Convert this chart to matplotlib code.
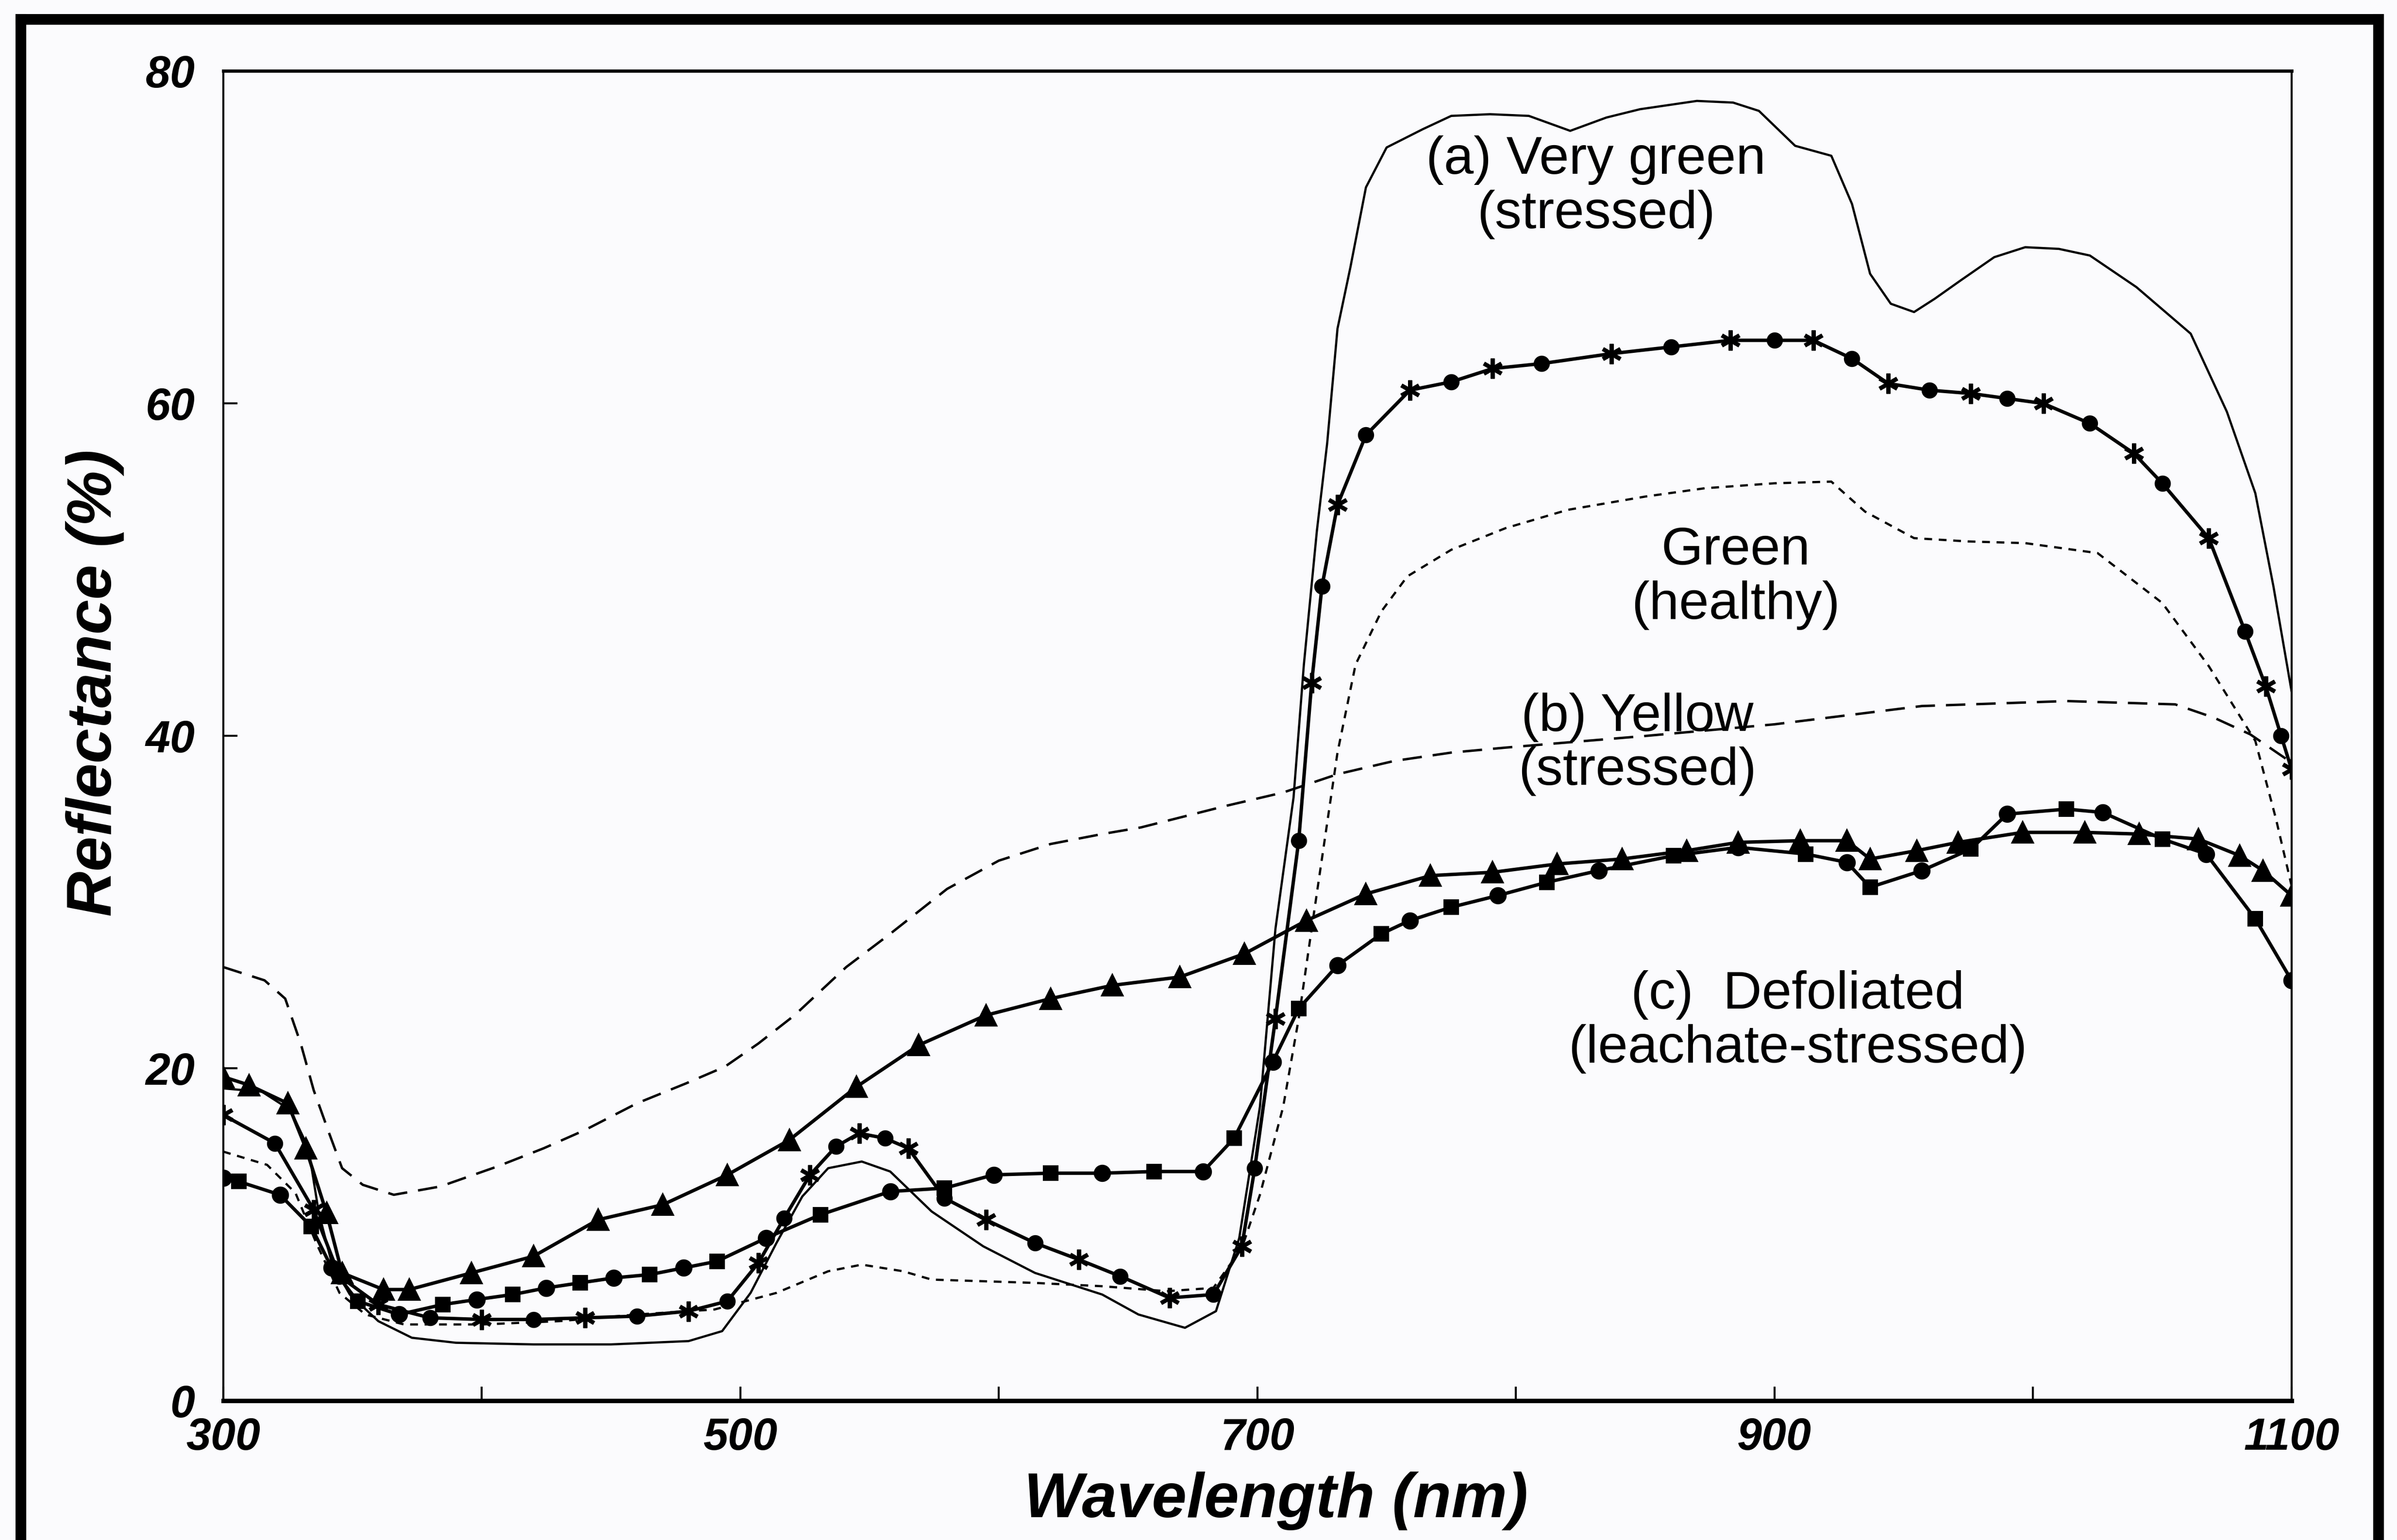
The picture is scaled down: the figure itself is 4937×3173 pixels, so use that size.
import matplotlib
matplotlib.use('Agg')
import matplotlib.pyplot as plt
from matplotlib.lines import Line2D

plt.rcParams['font.family'] = ['Liberation Sans', 'DejaVu Sans']

# (a) very green (stressed) - thin solid line
wl_a = [300, 315, 326, 333, 337, 342, 349, 360, 373, 390, 420, 450, 480, 493, 504, 514, 524, 534, 547, 558,
        574, 594, 614, 640, 654, 672, 684, 693, 701, 707, 714, 718, 723, 727, 731, 736, 742, 750, 764, 775,
        790, 805, 821, 835, 848, 870, 884, 894, 908, 922, 930, 937, 945, 954, 962, 972, 985, 997, 1010, 1022,
        1040, 1061, 1075, 1086, 1093, 1100]
refl_a = [18.8, 18.6, 17.5, 15.2, 11.3, 8.3, 6.4, 4.8, 3.8, 3.5, 3.4, 3.4, 3.6, 4.2, 6.5, 9.5, 12.3, 14.0, 14.4, 13.8,
          11.4, 9.3, 7.7, 6.4, 5.2, 4.4, 5.4, 9.8, 17.7, 28.4, 36.3, 44.3, 52.3, 57.6, 64.5, 68.2, 73.0, 75.4, 76.5, 77.3,
          77.4, 77.3, 76.4, 77.2, 77.7, 78.2, 78.1, 77.6, 75.5, 74.9, 72.0, 67.8, 66.0, 65.5, 66.3, 67.4, 68.8, 69.4, 69.3, 68.9,
          67.0, 64.2, 59.5, 54.6, 49.0, 42.7]

# green (healthy) - asterisks / circles
wl_b = [300, 320, 335, 345, 360, 380, 400, 420, 440, 460, 480, 495, 507, 517, 527, 537, 546, 556, 565, 579,
        595, 614, 631, 647, 666, 683, 694, 699, 707, 716, 721, 725, 731, 742, 759, 775, 791, 810, 837, 860,
        883, 900, 915, 930, 944, 960, 976, 990, 1004, 1022, 1039, 1050, 1068, 1082, 1090, 1096, 1100]
refl_b = [17.2, 15.5, 11.5, 7.5, 5.8, 5.0, 4.9, 4.9, 5.0, 5.1, 5.4, 6.0, 8.3, 11.0, 13.6, 15.3, 16.1, 15.8, 15.2, 12.2,
          10.9, 9.5, 8.5, 7.5, 6.2, 6.4, 9.3, 14.0, 23.0, 33.7, 43.2, 49.0, 53.9, 58.1, 60.8, 61.3, 62.1, 62.4, 63.0, 63.4,
          63.8, 63.8, 63.8, 62.7, 61.2, 60.8, 60.6, 60.3, 60.0, 58.8, 57.0, 55.2, 51.9, 46.3, 43.0, 40.0, 38.0]

# unlabelled short-dash curve
wl_c = [300, 317, 328, 336, 345, 355, 370, 400, 430, 460, 490, 514, 534, 547, 563, 574, 594, 614, 640, 665,
        683, 694, 701, 710, 716, 721, 726, 731, 738, 748, 758, 775, 796, 820, 850, 873, 900, 922, 935, 954,
        975, 997, 1025, 1050, 1068, 1086, 1094, 1100]
refl_c = [15.0, 14.2, 12.5, 9.5, 6.5, 5.2, 4.6, 4.6, 4.8, 5.2, 5.5, 6.5, 7.8, 8.2, 7.8, 7.3, 7.2, 7.1, 6.9, 6.6,
          6.8, 9.2, 12.4, 17.7, 23.0, 28.4, 33.7, 39.0, 44.3, 47.5, 49.6, 51.2, 52.5, 53.6, 54.4, 54.9, 55.2, 55.3, 53.5, 51.9,
          51.7, 51.6, 51.0, 48.0, 44.2, 39.7, 35.0, 31.0]

# (b) yellow (stressed) - long dash
wl_d = [300, 316, 324, 330, 335, 341, 346, 354, 366, 384, 406, 424, 440, 460, 479, 494, 507, 521, 541, 558,
        580, 600, 620, 640, 655, 688, 710, 731, 753, 775, 796, 850, 900, 957, 1013, 1055, 1070, 1084, 1100]
refl_d = [26.1, 25.3, 24.2, 21.5, 18.7, 16.1, 14.0, 13.0, 12.4, 12.9, 14.1, 15.2, 16.3, 17.9, 19.1, 20.1, 21.5, 23.2, 26.1, 28.1,
          30.8, 32.5, 33.5, 34.1, 34.5, 35.8, 36.6, 37.7, 38.5, 39.0, 39.3, 40.0, 40.7, 41.8, 42.1, 41.9, 41.1, 40.1, 38.4]

# (c) defoliated - triangles
wl_t = [300, 310, 325, 332, 340, 346, 362, 372, 396, 420, 445, 470, 495, 519, 545, 569, 595, 620, 644, 670,
        695, 719, 742, 767, 791, 816, 841, 866, 886, 910, 928, 937, 955, 971, 996, 1020, 1041, 1064, 1080, 1089, 1100]
refl_t = [19.5, 19.0, 17.9, 15.2, 11.3, 7.7, 6.7, 6.7, 7.7, 8.7, 10.9, 11.8, 13.6, 15.7, 18.9, 21.4, 23.2, 24.2, 25.0, 25.5,
          26.9, 28.9, 30.5, 31.6, 31.8, 32.3, 32.6, 33.1, 33.6, 33.7, 33.7, 32.6, 33.1, 33.6, 34.2, 34.2, 34.1, 33.8, 32.8, 31.9, 30.4]

# (c) defoliated - circles / squares
wl_e = [300, 306, 322, 334, 342, 352, 368, 385, 398, 412, 425, 438, 451, 465, 478, 491, 510, 531, 558, 579,
        598, 620, 640, 660, 679, 691, 706, 716, 731, 748, 759, 775, 793, 812, 832, 861, 886, 912, 928, 937,
        957, 976, 990, 1013, 1027, 1050, 1067, 1086, 1100]
refl_e = [13.4, 13.2, 12.4, 10.5, 8.0, 6.0, 5.2, 5.8, 6.1, 6.4, 6.8, 7.1, 7.4, 7.6, 8.0, 8.4, 9.8, 11.2, 12.6, 12.8,
          13.6, 13.7, 13.7, 13.8, 13.8, 15.8, 20.4, 23.6, 26.2, 28.1, 28.9, 29.7, 30.4, 31.2, 31.9, 32.8, 33.3, 32.9, 32.4, 30.9,
          31.9, 33.2, 35.3, 35.6, 35.4, 33.8, 32.9, 29.0, 25.3]

x_ticks = [300, 400, 500, 600, 700, 800, 900, 1000, 1100]
x_ticklabels = ['300', '', '500', '', '700', '', '900', '', '1100']
y_ticks = [0, 20, 40, 60, 80]
y_ticklabels = ['0', '20', '40', '60', '80']

labels = ['(a) Very green\n(stressed)', 'Green\n(healthy)', '(b) Yellow\n(stressed)', '(c)  Defoliated\n(leachate-stressed)']
label_pos = [(831, 73.0), (885, 49.5), (847, 39.5), (909, 22.8)]

fig = plt.figure(figsize=(4937 / 300, 3173 / 300), dpi=300, facecolor='#fbfbfd')
ax = fig.add_axes([0.0931, 0.0903, 0.8629, 0.8636])
ax.set_facecolor('#fbfbfd')

ax.plot(wl_a, refl_a, color='black', lw=1.1)
ax.plot(wl_c, refl_c, color='black', lw=1.1, dashes=(3.5, 3.0))
ax.plot(wl_d, refl_d, color='black', lw=1.2, dashes=(8, 4.5))

ax.plot(wl_b, refl_b, color='black', lw=1.7)
ax.plot(wl_b, refl_b, ls='none', marker=(6, 2, 0), ms=10, mew=2.0, color='black', markevery=slice(0, None, 2))
ax.plot(wl_b, refl_b, ls='none', marker='o', ms=7, color='black', markevery=slice(1, None, 2))

ax.plot(wl_t, refl_t, color='black', lw=1.7, marker='^', ms=10)

ax.plot(wl_e, refl_e, color='black', lw=1.7)
ax.plot(wl_e, refl_e, ls='none', marker='o', ms=7.5, color='black', markevery=slice(0, None, 2))
ax.plot(wl_e, refl_e, ls='none', marker='s', ms=6.5, color='black', markevery=slice(1, None, 2))

for txt, (lx, ly) in zip(labels, label_pos):
    ax.text(lx, ly, txt, ha='center', va='center', fontsize=26.5, linespacing=1.12)

ax.set_xlim(300, 1100)
ax.set_ylim(0, 80)
ax.set_xticks(x_ticks)
ax.set_xticklabels(x_ticklabels, fontsize=22, fontweight='bold', fontstyle='italic')
ax.set_yticks(y_ticks)
ax.set_yticklabels(y_ticklabels, fontsize=22, fontweight='bold', fontstyle='italic')
ax.tick_params(axis='both', direction='in', length=7, width=1.0, color='black')
ax.tick_params(axis='y', pad=14)
ax.tick_params(axis='x', pad=8)

ax.spines['top'].set_linewidth(1.6)
ax.spines['left'].set_linewidth(1.0)
ax.spines['right'].set_linewidth(1.0)
ax.spines['bottom'].set_linewidth(2.2)

ax.text(0.509, -0.053, 'Wavelength (nm)', transform=ax.transAxes, ha='center', va='top',
        fontsize=31, fontweight='bold', fontstyle='italic')
ax.text(-0.062, 0.54, 'Reflectance (%)', transform=ax.transAxes, ha='center', va='center',
        rotation=90, fontsize=31, fontweight='bold', fontstyle='italic')

# page frame around the scanned figure
x0, x1, yt = 0.0087, 0.9923, 0.9874
for xs, ys in [([x0, x0], [0, yt]), ([x0, x1], [yt, yt]), ([x1, x1], [yt, 0])]:
    fig.add_artist(Line2D(xs, ys, transform=fig.transFigure, color='black', lw=5.3,
                          solid_capstyle='projecting'))

fig.savefig('out.png', dpi=300, facecolor=fig.get_facecolor())
